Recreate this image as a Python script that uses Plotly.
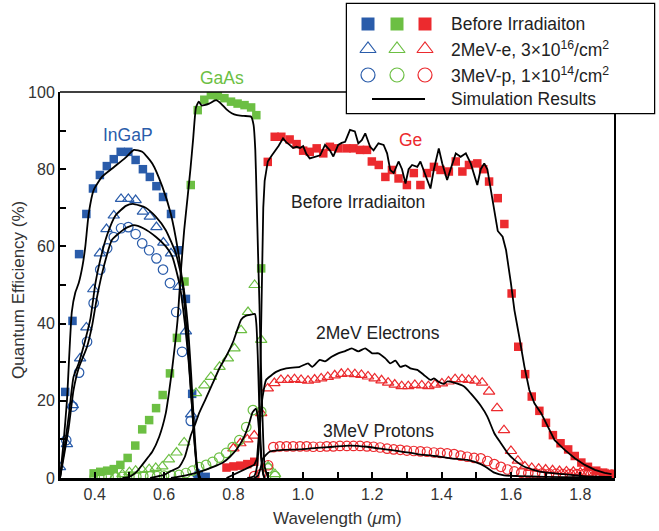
import plotly.graph_objects as go

W, H = 659, 531
BLUE, GREEN, RED = "#2A5CAA", "#6CBF43", "#EC2A2E"
FONT = "Liberation Sans, Arial, Helvetica, sans-serif"

# ---------------- measured data ----------------
ingap_before_x = [0.315,0.336,0.355,0.376,0.395,0.415,0.435,0.455,0.475,0.497,0.518,0.539,0.559,0.578,0.597,0.62,0.642,0.663,0.681,0.70,0.72]
ingap_before_y = [22.3,40.7,58,68.4,75,78.5,80.8,82.6,84.5,84.5,82.4,80,78,75.6,72.8,68.4,59,46.4,21.8,0.8,0.3]
ingap_e_x = [0.30,0.32,0.337,0.358,0.376,0.396,0.415,0.434,0.455,0.476,0.497,0.518,0.539,0.559,0.578,0.598,0.62,0.642,0.663,0.678,0.70]
ingap_e_y = [2.8,8.8,18.9,31,39,48.9,58.2,64.5,68,72.3,72.3,72,69,67.7,65,61,58.2,49.5,38,16.5,1]
ingap_p_x = [0.318,0.337,0.355,0.378,0.397,0.416,0.436,0.455,0.476,0.497,0.518,0.537,0.557,0.578,0.597,0.617,0.635,0.652,0.677,0.70]
ingap_p_y = [9.8,18.5,27.3,35.3,45.3,54,59.5,62.4,64.7,65,63.2,60.8,59,56.9,54,50.5,43,32.7,14.8,0.5]

gaas_before_x = [0.397,0.416,0.436,0.455,0.474,0.495,0.517,0.537,0.557,0.577,0.596,0.617,0.637,0.659,0.677,0.697,0.716,0.735,0.755,0.774,0.793,0.812,0.832,0.851,0.866,0.88]
gaas_before_y = [1.2,1.6,1.9,2.3,3.4,5.2,8.4,12.6,15,18.1,21.5,27.1,36.3,50.9,75.9,95.3,98,99.2,99,98.4,97.5,97,96.6,96,94,54.3]
gaas_e_x = [0.46,0.48,0.50,0.518,0.537,0.557,0.576,0.595,0.614,0.636,0.658,0.692,0.716,0.735,0.76,0.784,0.803,0.822,0.842,0.861,0.88,0.90,0.92]
gaas_e_y = [0.5,1.0,1.5,1.9,2.1,2.3,2.6,3.0,4.8,6.6,9.2,22,24,26.2,28.8,31,33.6,38.3,43,50,35.8,3,1]
gaas_p_x = [0.40,0.42,0.44,0.46,0.48,0.50,0.52,0.54,0.56,0.58,0.60,0.62,0.643,0.663,0.682,0.701,0.721,0.74,0.759,0.779,0.798,0.817,0.837,0.856,0.88,0.90,0.92]
gaas_p_y = [0.3,0.3,0.3,0.3,0.3,0.4,0.4,0.5,0.5,0.5,0.6,0.7,0.8,1.3,1.9,2.8,3.4,4.2,5.3,6.5,8,9.8,13.2,17.6,17.2,2.5,0.5]

ge_before_x = [0.78,0.80,0.82,0.84,0.86,0.899,0.919,0.938,0.962,0.982,1.001,1.02,1.04,1.059,1.078,1.102,1.126,1.146,1.165,1.185,1.199,1.219,1.238,1.257,1.276,1.30,1.32,1.339,1.358,1.378,1.397,1.421,1.441,1.46,1.479,1.503,1.52,1.537,1.562,1.581,1.602,1.621,1.641,1.66,1.682,1.701,1.721,1.743,1.765,1.784,1.803,1.822,1.846,1.866,1.885]
ge_before_y = [2.7,3.0,3.2,3.6,4.2,81.9,88.4,88.4,87.7,86.5,84.8,84.5,85.4,84.1,85.8,85.4,85.4,85.4,85,85,82,81.1,78,79.8,77.6,75.9,79,75.9,79,80.6,79.8,79.4,82,79.4,81.1,81.5,80,76.8,72.5,65.8,47.8,34,26.9,21.1,17.4,14.3,11.1,9,7.4,5.7,4,2.9,1.9,1.4,1]
ge_e_x = [0.80,0.82,0.84,0.86,0.88,0.899,0.918,0.937,0.957,0.976,0.995,1.015,1.034,1.053,1.072,1.092,1.111,1.13,1.15,1.169,1.188,1.207,1.227,1.246,1.265,1.285,1.304,1.323,1.343,1.362,1.381,1.401,1.42,1.439,1.459,1.478,1.497,1.517,1.537,1.56,1.58,1.60,1.62,1.64,1.66,1.68,1.70,1.72,1.74,1.76,1.78,1.80,1.82,1.84,1.86,1.88]
ge_e_y = [7.7,9,10,11,16.8,23.2,24.6,25.4,25.4,25.6,25.4,25.2,25.5,25.8,26.2,26.6,27,27.1,26.9,26.7,26.3,25.8,25.3,24.7,24.2,23.8,23.8,24.1,24.0,23.8,24.2,24.5,25.0,25.6,25.6,25.4,25.2,24.7,22.4,18.1,12.4,7,4.5,3,2.6,2.4,2.2,2,1.8,1.7,1.6,1.4,1.2,1.1,1,0.9]
ge_p_x = [0.86,0.88,0.90,0.915,0.934,0.953,0.972,0.992,1.011,1.03,1.05,1.069,1.088,1.107,1.127,1.146,1.165,1.185,1.204,1.223,1.243,1.262,1.281,1.30,1.32,1.339,1.358,1.378,1.397,1.416,1.436,1.455,1.474,1.494,1.513,1.532,1.552,1.571,1.59,1.61,1.63,1.65,1.67,1.69,1.71,1.73,1.75,1.77,1.79,1.81,1.83,1.85,1.87,1.89]
ge_p_y = [0.5,1,3.3,8,8.2,8.2,8.2,8.2,8.2,8.1,8.1,8.2,8.2,8.3,8.3,8.3,8.3,8.2,8.1,7.9,7.6,7.4,7.3,7.1,7,6.9,6.8,6.6,6.5,6.4,6.2,5.8,5.5,5.2,5.1,4.4,3.6,2.9,2.2,1.7,1.4,1.3,1.2,1.2,1.1,1.1,1,1,1,1,0.9,0.9,0.9,0.9]

# simulation curves
sim_ingap_before_x = [0.30,0.31,0.32,0.334,0.344,0.354,0.365,0.373,0.383,0.397,0.421,0.455,0.489,0.513,0.537,0.566,0.595,0.619,0.64,0.655,0.668,0.678,0.687,0.694,0.70]
sim_ingap_before_y = [0,9,20,43,48,50.5,55,60,68.6,74.6,78,80.5,83,85,84.5,81.5,75.5,68.6,59,49,35,22,10,3,0]
sim_ingap_e_x = [0.30,0.31,0.325,0.339,0.354,0.373,0.388,0.402,0.416,0.436,0.46,0.49,0.51,0.547,0.576,0.605,0.634,0.655,0.668,0.678,0.687,0.695,0.703]
sim_ingap_e_y = [0,6,15.9,26.2,29.7,35.8,41.4,50.4,56.5,63,68,70.5,71,70,67.7,64.2,58.2,50,40,27,13,3,0]
sim_ingap_p_x = [0.30,0.31,0.325,0.339,0.354,0.378,0.392,0.407,0.426,0.45,0.489,0.513,0.54,0.576,0.605,0.624,0.645,0.66,0.671,0.681,0.69,0.697,0.705]
sim_ingap_p_y = [0,5,13,22.8,28.5,34,39.2,47,54.7,61.7,64.7,65.5,64.7,62.5,60,57.3,50,40,30,18,7,1.5,0]

sim_gaas_before_x = [0.48,0.50,0.52,0.537,0.555,0.566,0.586,0.605,0.614,0.624,0.639,0.648,0.658,0.668,0.676,0.684,0.692,0.70,0.708,0.716,0.73,0.75,0.764,0.78,0.795,0.81,0.83,0.851,0.858,0.863,0.867,0.871,0.875,0.879,0.884,0.89,0.90]
sim_gaas_before_y = [0,0.3,1.5,3.4,5.5,6.8,10.7,16.8,22,28.8,41,53,64.2,72.9,80,88,96,97.5,96.5,96.6,97,97.9,97,95.5,94.5,94,93.8,93.6,91.5,85,72,58,45,30,15,3,0]
sim_gaas_e_x = [0.56,0.60,0.62,0.643,0.66,0.677,0.69,0.701,0.72,0.74,0.76,0.779,0.80,0.822,0.835,0.85,0.862,0.866,0.87,0.874,0.878,0.882,0.887,0.89]
sim_gaas_e_y = [0,0.8,1.8,2.8,5.5,11,14,16.8,20.5,24.5,28.5,31.5,35.5,41,42,42.3,42.5,40,32,20,10,4,0.5,0]
sim_gaas_p_x = [0.62,0.66,0.70,0.74,0.77,0.79,0.81,0.83,0.845,0.855,0.865,0.87,0.875,0.88,0.885,0.89]
sim_gaas_p_y = [0,0.6,1.5,2.8,4,5.5,7.5,10.5,14,17,18,16,11,5,1.5,0]

sim_ge_before_x = [0.78,0.80,0.82,0.84,0.86,0.868,0.874,0.878,0.882,0.886,0.89,0.895,0.899,0.91,0.919,0.93,0.943,0.952,0.962,0.972,0.982,0.992,1.001,1.01,1.02,1.034,1.05,1.064,1.078,1.088,1.102,1.112,1.122,1.136,1.15,1.16,1.17,1.18,1.194,1.204,1.218,1.233,1.243,1.252,1.262,1.276,1.286,1.296,1.305,1.315,1.33,1.339,1.354,1.368,1.378,1.392,1.402,1.416,1.426,1.441,1.455,1.47,1.484,1.503,1.513,1.523,1.532,1.542,1.552,1.562,1.576,1.586,1.60,1.61,1.624,1.639,1.653,1.668,1.687,1.706,1.726,1.755,1.784,1.813,1.842,1.87,1.89]
sim_ge_before_y = [0,0.8,1.6,2.4,3.4,5,12,30,55,70,77,80,82,83.5,84.5,86,88,87,86.3,85.5,85.8,85.5,86,84,82.8,83.2,83.6,86.3,84.9,83.3,86.3,86.8,87.1,90.2,89.8,86.7,87.5,89.3,85.8,84.9,86.7,86.3,84.1,79.8,79,82,80,76.3,80,81.1,80.6,82,78.5,75,80,85.4,81.5,77.2,80,84.1,83.2,84.1,81.5,75.9,80,81.5,80,75,69.4,64,62.5,59,50.4,43.5,36.6,28.8,22.8,19.3,16.8,13.3,9.8,7.3,5.1,3.4,2.1,1.3,1]
sim_ge_e_x = [0.84,0.86,0.868,0.874,0.879,0.884,0.894,0.908,0.923,0.952,0.991,1.015,1.027,1.049,1.064,1.083,1.102,1.12,1.141,1.16,1.18,1.2,1.218,1.238,1.252,1.267,1.281,1.296,1.31,1.33,1.349,1.368,1.378,1.392,1.407,1.416,1.436,1.465,1.484,1.513,1.532,1.552,1.571,1.591,1.61,1.639,1.687,1.75,1.81,1.89]
sim_ge_e_y = [0,0.5,3,10,17,21,25.4,26.5,27.5,28.4,28.8,29.7,28.8,30.6,30.2,31.4,32.3,32.8,33.6,32.8,33.6,32.3,32.3,31,29.7,30.4,28.8,29.2,28.4,28,26.7,25.4,25.8,24.9,24.4,25,24.7,23.7,21.9,18.7,15.9,11.6,9,6.4,4.7,2.9,1.6,1,0.5,0.3]
sim_ge_p_x = [0.86,0.87,0.878,0.885,0.894,0.904,0.914,0.943,0.991,1.04,1.088,1.136,1.185,1.233,1.281,1.33,1.378,1.426,1.474,1.513,1.532,1.552,1.58,1.62,1.7,1.8,1.89]
sim_ge_p_y = [0,0.5,2.5,5,6,6.8,7,7.3,7.4,7.8,8.1,8.4,8.1,7.5,6.9,6.2,5.7,5.1,4.7,3.6,2.6,1.4,0.7,0.5,0.3,0.2,0.2]

x_ticks = [0.4, 0.6, 0.8, 1.0, 1.2, 1.4, 1.6, 1.8]
y_ticks = [0, 20, 40, 60, 80, 100]

legend_labels = ["Before Irradiaiton",
                 "2MeV-e, 3\u00D710<sup>16</sup>/cm<sup>2</sup>",
                 "3MeV-p, 1\u00D710<sup>14</sup>/cm<sup>2</sup>",
                 "Simulation Results"]

# ---------------- figure ----------------
def px(x): return x / W
def py(y): return 1 - y / H

fig = go.Figure()

def mk(x, y, color, kind):
    if kind == "sq":
        m = dict(symbol="square", size=8.5, color=color, line=dict(width=0))
    elif kind == "tri":
        m = dict(symbol="triangle-up-open", size=10, color=color, line=dict(width=1.2, color=color))
    else:
        m = dict(symbol="circle-open", size=9.5, color=color, line=dict(width=1.2, color=color))
    fig.add_trace(go.Scatter(x=x, y=y, mode="markers", marker=m, showlegend=False, hoverinfo="skip"))

mk(ingap_before_x, ingap_before_y, BLUE, "sq")
mk(gaas_before_x, gaas_before_y, GREEN, "sq")
mk(ge_before_x, ge_before_y, RED, "sq")
mk(ingap_e_x, ingap_e_y, BLUE, "tri")
mk(gaas_e_x, gaas_e_y, GREEN, "tri")
mk(ge_e_x, ge_e_y, RED, "tri")
mk(ingap_p_x, ingap_p_y, BLUE, "circ")
mk(gaas_p_x, gaas_p_y, GREEN, "circ")
mk(ge_p_x, ge_p_y, RED, "circ")

smooth_curves = [(sim_ingap_before_x, sim_ingap_before_y), (sim_ingap_e_x, sim_ingap_e_y),
                 (sim_ingap_p_x, sim_ingap_p_y), (sim_gaas_before_x, sim_gaas_before_y),
                 (sim_gaas_e_x, sim_gaas_e_y), (sim_gaas_p_x, sim_gaas_p_y),
                 (sim_ge_e_x, sim_ge_e_y), (sim_ge_p_x, sim_ge_p_y)]
for sx, sy in smooth_curves:
    fig.add_trace(go.Scatter(x=sx, y=sy, mode="lines",
                             line=dict(color="black", width=1.8, shape="spline", smoothing=0.5),
                             showlegend=False, hoverinfo="skip"))
fig.add_trace(go.Scatter(x=sim_ge_before_x, y=sim_ge_before_y, mode="lines",
                         line=dict(color="black", width=1.8), showlegend=False, hoverinfo="skip"))

# legend glyphs on an overlay axis (pixel-like coordinates inside the legend box)
LX0, LX1, LY0, LY1 = 347, 654, 4, 113
row_y = [24, 49, 75, 99]
col_x = [368, 397, 425]
colors = [BLUE, GREEN, RED]
kinds = [("square", 0), ("triangle-up-open", 1.2), ("circle-open", 1.2)]
sizes = [13, 14, 14]
for r, (sym, lw) in enumerate(kinds):
    fig.add_trace(go.Scatter(x=col_x, y=[row_y[r]] * 3, mode="markers", xaxis="x2", yaxis="y2",
                             marker=dict(symbol=sym, size=sizes[r], color=colors,
                                         line=dict(width=lw, color=colors)),
                             showlegend=False, hoverinfo="skip"))
fig.add_trace(go.Scatter(x=[372, 425], y=[row_y[3], row_y[3]], mode="lines", xaxis="x2", yaxis="y2",
                         line=dict(color="black", width=2), showlegend=False, hoverinfo="skip"))

XD = [60 / W, 615 / W]
YD = [py(478), py(92)]
axis_font = dict(family=FONT, size=16, color="#333")

fig.update_layout(
    width=W, height=H, margin=dict(l=0, r=0, t=0, b=0),
    paper_bgcolor="white", plot_bgcolor="white",
    xaxis=dict(domain=XD, range=[0.3, 1.9], tickvals=x_ticks, tickformat=".1f",
               ticks="inside", ticklen=6, tickwidth=1.5, tickcolor="black",
               minor=dict(tick0=0.3, dtick=0.1, ticks="inside", ticklen=6, tickwidth=1.5, tickcolor="black"),
               showline=True, linewidth=2.5, linecolor="black", showgrid=False, zeroline=False,
               tickfont=axis_font, automargin=False),
    yaxis=dict(domain=YD, range=[0, 100], tickvals=y_ticks,
               ticks="inside", ticklen=6, tickwidth=1.5, tickcolor="black",
               minor=dict(tick0=0, dtick=10, ticks="inside", ticklen=6, tickwidth=1.5, tickcolor="black"),
               showline=True, linewidth=2, linecolor="black", showgrid=False, zeroline=False,
               tickfont=axis_font, automargin=False),
    xaxis2=dict(domain=[px(LX0), px(LX1)], range=[LX0, LX1], visible=False, anchor="y2", fixedrange=True),
    yaxis2=dict(domain=[py(LY1), py(LY0)], range=[LY1, LY0], visible=False, anchor="x2", fixedrange=True),
    font=dict(family=FONT, color="#222"),
)

shapes = [
    dict(type="line", xref="paper", yref="paper", x0=px(60), x1=px(LX0), y0=py(92), y1=py(92),
         line=dict(color="black", width=1.5)),
    dict(type="line", xref="paper", yref="paper", x0=px(615), x1=px(615), y0=py(LY1), y1=py(478),
         line=dict(color="black", width=2)),
    dict(type="rect", xref="paper", yref="paper", x0=px(LX0), x1=px(LX1), y0=py(LY1), y1=py(LY0),
         line=dict(color="black", width=2.5), fillcolor="rgba(0,0,0,0)", layer="below"),
]
fig.update_layout(shapes=shapes)

ann = []
def text(x, y, s, color="#222", size=17.5, xanchor="center", angle=0):
    ann.append(dict(x=px(x), y=py(y), xref="paper", yref="paper", text=s, showarrow=False,
                    xanchor=xanchor, yanchor="middle", textangle=angle,
                    font=dict(family=FONT, size=size, color=color)))

for i, lab in enumerate(legend_labels):
    text(449, row_y[i], lab, xanchor="left")
text(128, 135, "InGaP", BLUE)
text(222, 78, "GaAs", GREEN)
text(410, 140, "Ge", RED)
text(358, 202, "Before Irradiaiton")
text(378, 333, "2MeV Electrons")
text(378, 431, "3MeV Protons")
text(337, 518, "Wavelength (<i>\u03BC</i>m)", "#333", size=17)
text(18, 290, "Quantum Efficiency (%)", "#333", size=17, angle=-90)
fig.update_layout(annotations=ann)

fig.write_html("out.html", config={"displayModeBar": False},
               post_script="document.body.style.margin='0px';")
